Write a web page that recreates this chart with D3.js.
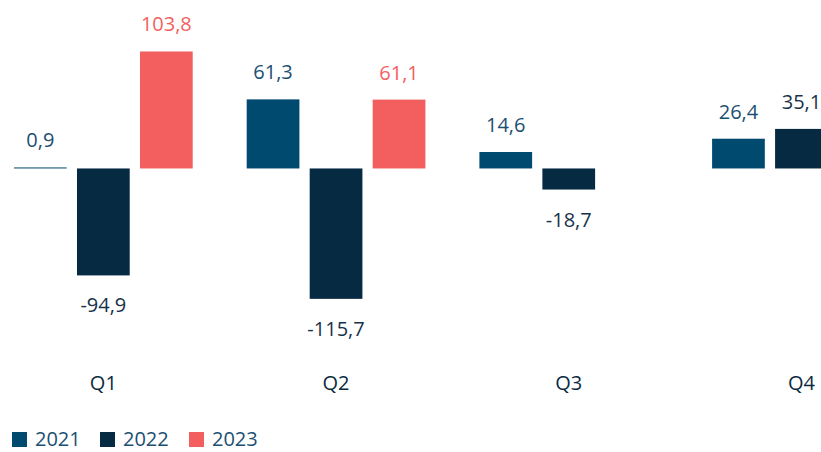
<!DOCTYPE html>
<html>
<head>
    <meta charset="utf-8">
    <title>Quarterly bars</title>
    <script src="https://cdnjs.cloudflare.com/ajax/libs/d3/7.8.5/d3.min.js"></script>
    <style>
        html, body {
            margin: 0;
            padding: 0;
            background: #ffffff;
            font-family: 'Open Sans', 'Noto Sans', sans-serif;
        }
        #chart svg { display: block; }
    </style>
</head>
<body>
    <div id="chart"></div>
    <script>
        const quarters = ["Q1", "Q2", "Q3", "Q4"];
        const years = ["2021", "2022", "2023"];
        // values per year, one per quarter (null = no bar)
        const values2021 = [0.9, 61.3, 14.6, 26.4];
        const values2022 = [-94.9, -115.7, -18.7, 35.1];
        const values2023 = [103.8, 61.1, null, null];

        const barColors = ["#004a70", "#052a42", "#f35e5e"];
        const labelColors = ["#1b4f72", "#17324a", "#f26161"];

        const width = 821, height = 452;

        const svg = d3.select("#chart")
            .append("svg")
            .attr("width", width)
            .attr("height", height);

        const series = [values2021, values2022, values2023];
        const rows = [];
        quarters.forEach((q, i) => {
            years.forEach((yr, j) => {
                if (series[j][i] !== null) {
                    rows.push({ quarter: q, year: yr, idx: j, value: series[j][i] });
                }
            });
        });

        const x0 = d3.scaleBand()
            .domain(quarters)
            .range([14, 890.8])
            .paddingInner(0.232)
            .paddingOuter(0);

        const x1 = d3.scaleBand()
            .domain(years)
            .range([0, x0.bandwidth()])
            .paddingInner(0.163)
            .paddingOuter(0);

        const y = d3.scaleLinear()
            .domain([-120, 110])
            .range([303.7, 44.5]);

        const fmt = v => v.toFixed(1).replace(".", ",");

        const groups = svg.selectAll(".group")
            .data(quarters)
            .enter()
            .append("g")
            .attr("class", "group")
            .attr("transform", d => "translate(" + x0(d) + ",0)");

        groups.selectAll("rect")
            .data(q => rows.filter(r => r.quarter === q))
            .enter()
            .append("rect")
            .attr("x", d => x1(d.year))
            .attr("width", x1.bandwidth())
            .attr("y", d => Math.min(y(d.value), y(0)))
            .attr("height", d => Math.max(1, Math.abs(y(d.value) - y(0))))
            .attr("fill", d => barColors[d.idx]);

        groups.selectAll("text.val")
            .data(q => rows.filter(r => r.quarter === q))
            .enter()
            .append("text")
            .attr("class", "val")
            .attr("x", d => x1(d.year) + x1.bandwidth() / 2)
            .attr("y", d => d.value >= 0 ? y(d.value) - 20 : y(d.value) + 37)
            .attr("text-anchor", "middle")
            .style("font-size", "20px")
            .attr("fill", d => labelColors[d.idx])
            .text(d => fmt(d.value));

        // quarter labels
        svg.selectAll("text.q")
            .data(quarters)
            .enter()
            .append("text")
            .attr("class", "q")
            .attr("x", d => x0(d) + x0.bandwidth() / 2)
            .attr("y", 390)
            .attr("text-anchor", "middle")
            .style("font-size", "20px")
            .style("font-weight", 500)
            .attr("fill", "#0b2a40")
            .text(d => d);

        // legend
        const legendX = [12, 100, 189];
        const legend = svg.selectAll(".legend")
            .data(years)
            .enter()
            .append("g")
            .attr("class", "legend")
            .attr("transform", (d, i) => "translate(" + legendX[i] + ",432)");

        legend.append("rect")
            .attr("width", 15)
            .attr("height", 15)
            .attr("fill", (d, i) => barColors[i]);

        legend.append("text")
            .attr("x", 23)
            .attr("y", 14)
            .style("font-size", "20px")
            .attr("fill", "#1b4f72")
            .text(d => d);
    </script>
</body>
</html>
